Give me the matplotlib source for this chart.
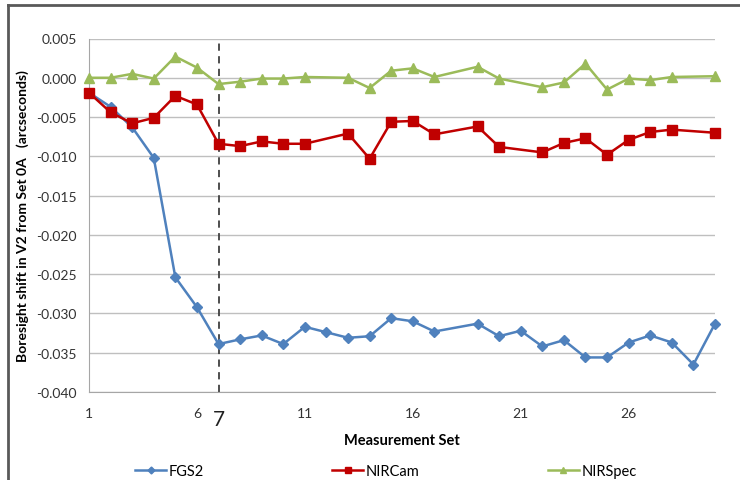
import numpy as np
import matplotlib.pyplot as plt
from matplotlib.lines import Line2D

# Daten (Messsatz -> Boresight-Verschiebung in V2, Bogensekunden)
x_fgs2 = [1, 2, 3, 4, 5, 6, 7, 8, 9, 10, 11, 12, 13, 14, 15, 16, 17,
          19, 20, 21, 22, 23, 24, 25, 26, 27, 28, 29, 30]
y_fgs2 = [-0.0019, -0.0037, -0.0063, -0.0102, -0.0254, -0.0292, -0.0339,
          -0.0333, -0.0328, -0.0339, -0.0317, -0.0324, -0.0331, -0.0329,
          -0.0306, -0.0310, -0.0323, -0.0313, -0.0329, -0.0322, -0.0342,
          -0.0334, -0.0356, -0.0356, -0.0337, -0.0328, -0.0337, -0.0365,
          -0.0313]

x_other = [1, 2, 3, 4, 5, 6, 7, 8, 9, 10, 11, 13, 14, 15, 16, 17,
           19, 20, 22, 23, 24, 25, 26, 27, 28, 30]
y_nircam = [-0.0019, -0.0044, -0.0058, -0.0051, -0.0023, -0.0034, -0.0084,
            -0.0087, -0.0081, -0.0084, -0.0084, -0.0071, -0.0103, -0.0056,
            -0.0055, -0.0072, -0.0062, -0.0088, -0.0095, -0.0083, -0.0077,
            -0.0098, -0.0079, -0.0069, -0.0066, -0.0070]
y_nirspec = [0.0000, 0.0000, 0.0005, -0.0001, 0.0027, 0.0013, -0.0008,
             -0.0005, -0.0001, -0.0001, 0.0001, 0.0000, -0.0013, 0.0009,
             0.0012, 0.0001, 0.0014, -0.0001, -0.0012, -0.0006, 0.0018,
             -0.0015, -0.0001, -0.0003, 0.0001, 0.0002]

x_ticks = [1, 6, 11, 16, 21, 26]
y_ticks = [0.005, 0.0, -0.005, -0.010, -0.015, -0.020, -0.025, -0.030,
           -0.035, -0.040]
marker_set = 7

plt.rcParams['font.family'] = ['Lato', 'DejaVu Sans']

fig = plt.figure(figsize=(7.4, 4.81), dpi=100)
ax = fig.add_axes([89 / 740, 1 - 393 / 481, (715 - 89) / 740, (393 - 39.5) / 481])

# Farben
c_fgs = '#4F81BD'
c_cam = '#C00000'
c_spec = '#9BBB59'

ax.plot(x_fgs2, y_fgs2, color=c_fgs, marker='D', markersize=5, linewidth=1.8,
        label='FGS2', clip_on=False, zorder=3)
ax.plot(x_other, y_nircam, color=c_cam, marker='s', markersize=6.5, linewidth=1.8,
        label='NIRCam', clip_on=False, zorder=3)
ax.plot(x_other, y_nirspec, color=c_spec, marker='^', markersize=7, linewidth=1.8,
        label='NIRSpec', clip_on=False, zorder=3)

ax.axvline(marker_set, color='#404040', linestyle=(0, (4, 3)), linewidth=1.3, zorder=1)

ax.set_xlim(1, 30)
ax.set_ylim(-0.040, 0.005)
ax.set_xticks(x_ticks)
ax.set_yticks(y_ticks)
ax.set_yticklabels(['%.3f' % v for v in y_ticks])
ax.yaxis.grid(True, color='#BFBFBF', linewidth=1)
ax.set_axisbelow(True)
ax.tick_params(axis='both', length=0, labelsize=10, colors='#333333')
ax.tick_params(axis='x', pad=11)
ax.tick_params(axis='y', pad=9)
for s in ['top', 'right']:
    ax.spines[s].set_visible(False)
for s in ['left', 'bottom']:
    ax.spines[s].set_color('#A6A6A6')

ax.text(marker_set, -0.0435, '7', fontsize=15, ha='center', va='center', color='#202020')

ax.set_xlabel('Measurement Set', fontsize=10.5, fontweight='bold', labelpad=10)
ax.set_ylabel('Boresight shift in V2 from Set 0A   (arcseconds)', fontsize=10,
              fontweight='bold', labelpad=5)

handles = [Line2D([], [], color=c_fgs, marker='D', markersize=3.5, linewidth=1.8),
           Line2D([], [], color=c_cam, marker='s', markersize=4.5, linewidth=1.8),
           Line2D([], [], color=c_spec, marker='^', markersize=5, linewidth=1.8)]
fig.legend(handles, ['FGS2', 'NIRCam', 'NIRSpec'], loc='center', ncol=3,
           bbox_to_anchor=(386 / 740, 1 - 472 / 481), frameon=False, fontsize=10.5,
           handlelength=2.1, handletextpad=0.2, columnspacing=8.8)

# Rahmen des Diagramms
fig.add_artist(Line2D([8 / 740, 8 / 740], [0, 1 - 6 / 481], color='#595959',
                      linewidth=2, transform=fig.transFigure))
fig.add_artist(Line2D([8 / 740, 1], [1 - 6 / 481, 1 - 6 / 481], color='#595959',
                      linewidth=2, transform=fig.transFigure))

plt.savefig('out.png', dpi=100)
